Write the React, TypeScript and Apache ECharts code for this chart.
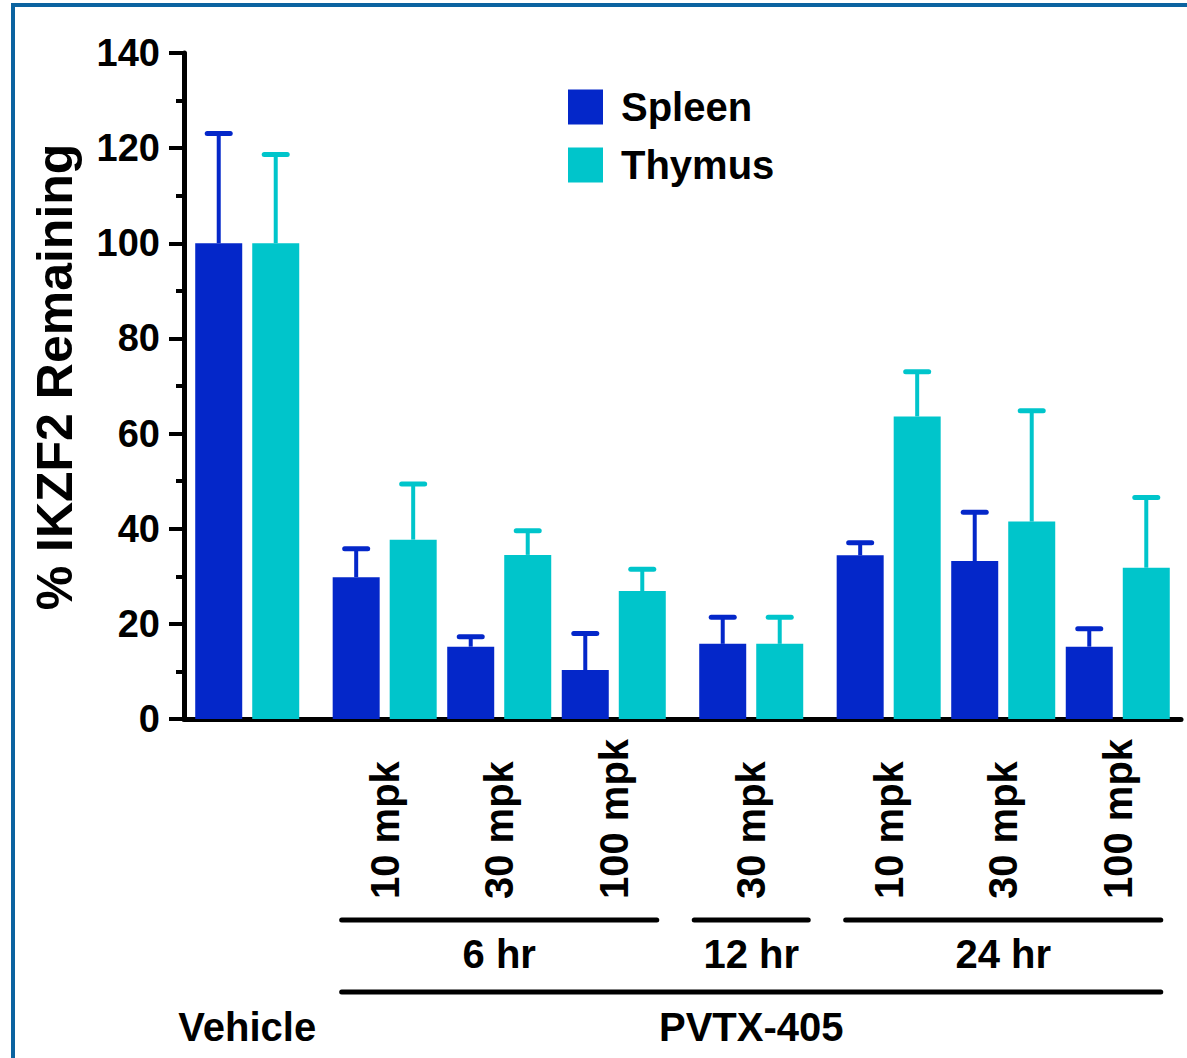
import React, { useEffect, useRef } from 'react';
import * as echarts from 'echarts';

// ---------- data ----------
const treatments = ['Vehicle', 'PVTX-405', 'PVTX-405', 'PVTX-405', 'PVTX-405', 'PVTX-405', 'PVTX-405', 'PVTX-405'];
const timepoints = ['', '6 hr', '6 hr', '6 hr', '12 hr', '24 hr', '24 hr', '24 hr'];
const doses = ['', '10 mpk', '30 mpk', '100 mpk', '30 mpk', '10 mpk', '30 mpk', '100 mpk'];
const seriesNames = ['Spleen', 'Thymus'];
const spleenMean = [100, 29.8, 15.2, 10.3, 15.8, 34.4, 33.2, 15.2];
const spleenErr = [23.6, 6.5, 2.6, 8.2, 6.1, 3.2, 10.8, 4.3];
const thymusMean = [100, 37.7, 34.5, 26.9, 15.8, 63.6, 41.5, 31.8];
const thymusErr = [19.2, 12.2, 5.6, 5.1, 6.1, 9.9, 23.8, 15.3];
const yMin = 0;
const yMax = 140;
const yInterval = 20;

// ---------- layout helpers ----------
const GROUP_STEP = 5;
const BLOCK_GAP = 1;
const FONT = "'Liberation Sans', Arial, Helvetica, sans-serif";
const SPLEEN = '#0427C9';
const THYMUS = '#00C5CB';

function buildPositions(keys: string[]): number[] {
  let block = 0;
  return keys.map((k, i) => {
    if (i > 0 && k !== keys[i - 1]) block++;
    return i * GROUP_STEP + block * BLOCK_GAP;
  });
}

function runs(keys: string[]) {
  const out: { key: string; start: number; end: number }[] = [];
  keys.forEach((k, i) => {
    const last = out[out.length - 1];
    if (last && last.key === k) last.end = i;
    else out.push({ key: k, start: i, end: i });
  });
  return out;
}

export default function App() {
  const ref = useRef<HTMLDivElement>(null);

  useEffect(() => {
    if (!ref.current) return;
    const chart = echarts.init(ref.current, null, { renderer: 'svg' });
    const pos = buildPositions(timepoints);

    type Ann = { level: number; label: string; start: number; end: number; line: boolean };
    const anns: Ann[] = [];
    runs(timepoints).forEach((r) => {
      if (r.key) anns.push({ level: 0, label: r.key, start: pos[r.start], end: pos[r.end], line: true });
    });
    runs(treatments).forEach((r) => {
      const hasTime = timepoints.slice(r.start, r.end + 1).some((t) => t !== '');
      anns.push({ level: 1, label: r.key, start: pos[r.start], end: pos[r.end], line: hasTime });
    });

    const labelMap: Record<string, string> = {};
    pos.forEach((p, i) => { if (doses[i]) labelMap[String(p)] = doses[i]; });
    const doseValues = pos.filter((_, i) => doses[i] !== '');

    const errSeries = (name: string, mean: number[], err: number[], color: string, side: number) => ({
      type: 'custom',
      name: name + ' err',
      clip: false,
      z: 5,
      data: pos.map((p, i) => [p, mean[i], err[i]]),
      renderItem: (params: any, api: any) => {
        const x = api.value(0);
        const m = api.value(1);
        const e = api.value(2);
        const p1 = api.coord([x, m]);
        const p2 = api.coord([x, m + e]);
        const cx = p1[0] + side * 28.5;
        return {
          type: 'group',
          children: [
            { type: 'line', shape: { x1: cx, y1: p1[1], x2: cx, y2: p2[1] + 2 }, style: { stroke: color, lineWidth: 4 } },
            { type: 'line', shape: { x1: cx - 11.5, y1: p2[1] + 2.5, x2: cx + 11.5, y2: p2[1] + 2.5 }, style: { stroke: color, lineWidth: 5, lineCap: 'round' } },
          ],
        };
      },
    });

    const option: any = {
      animation: false,
      backgroundColor: '#ffffff',
      textStyle: { fontFamily: FONT },
      grid: { left: 184, right: 6, top: 53, height: 666, containLabel: false },
      legend: {
        data: seriesNames,
        orient: 'vertical',
        left: 568,
        top: 87,
        padding: 0,
        itemWidth: 35,
        itemHeight: 35,
        itemGap: 18,
        icon: 'rect',
        textStyle: { fontSize: 40, fontWeight: 'bold', color: '#000', fontFamily: FONT, padding: [0, 0, 0, 13] },
      },
      xAxis: {
        type: 'value',
        min: pos[0] - 2.76,
        max: pos[pos.length - 1] + 2.76,
        splitLine: { show: false },
        axisLine: { show: true, onZero: false, lineStyle: { color: '#000', width: 5 } },
        axisTick: { show: false },
        axisLabel: {
          show: true,
          customValues: doseValues,
          formatter: (v: number) => labelMap[String(v)] || '',
          rotate: 90,
          margin: 180,
          align: 'left',
          verticalAlign: 'middle',
          fontSize: 40,
          fontWeight: 'bold',
          color: '#000',
          fontFamily: FONT,
        },
      },
      yAxis: {
        type: 'value',
        min: yMin,
        max: yMax,
        interval: yInterval,
        name: '% IKZF2 Remaining',
        nameLocation: 'middle',
        nameGap: 104,
        nameMoveOverlap: false,
        nameTextStyle: { fontSize: 50, fontWeight: 'bold', color: '#000', fontFamily: FONT, padding: [0, 0, 0, 18] },
        splitLine: { show: false },
        axisLine: { show: true, onZero: false, lineStyle: { color: '#000', width: 5 } },
        axisTick: { show: true, length: 15, lineStyle: { color: '#000', width: 4 } },
        minorTick: { show: true, splitNumber: 2, length: 8, lineStyle: { color: '#000', width: 4 } },
        axisLabel: { margin: 24, fontSize: 38, fontWeight: 'bold', color: '#000', fontFamily: FONT },
      },
      graphic: [
        {
          type: 'rect',
          silent: true,
          shape: { x: 13, y: 5, width: 1400, height: 1400 },
          style: { fill: 'none', stroke: '#0B63A0', lineWidth: 4 },
        },
      ],
      series: [
        {
          type: 'bar',
          name: seriesNames[0],
          data: pos.map((p, i) => [p, spleenMean[i]]),
          barWidth: 47,
          barGap: '21.3%',
          itemStyle: { color: SPLEEN },
        },
        {
          type: 'bar',
          name: seriesNames[1],
          data: pos.map((p, i) => [p, thymusMean[i]]),
          barWidth: 47,
          barGap: '21.3%',
          itemStyle: { color: THYMUS },
        },
        errSeries(seriesNames[0], spleenMean, spleenErr, SPLEEN, -1),
        errSeries(seriesNames[1], thymusMean, thymusErr, THYMUS, 1),
        {
          type: 'custom',
          name: 'annotations',
          clip: false,
          data: anns.map((a) => [a.start, a.end]),
          renderItem: (params: any, api: any) => {
            const a = anns[params.dataIndex];
            const p1 = api.coord([a.start, 0]);
            const p2 = api.coord([a.end, 0]);
            const y0 = p1[1];
            const cx = (p1[0] + p2[0]) / 2;
            const half = Math.max((p2[0] - p1[0]) / 2 + 43, 57);
            const lineY = y0 + (a.level === 0 ? 201 : 273);
            const textY = y0 + (a.level === 0 ? 235 : 308);
            const children: any[] = [];
            if (a.line) {
              children.push({
                type: 'line',
                shape: { x1: cx - half, y1: lineY, x2: cx + half, y2: lineY },
                style: { stroke: '#000', lineWidth: 5, lineCap: 'round' },
              });
            }
            children.push({
              type: 'text',
              x: cx,
              y: textY,
              style: { text: a.label, fill: '#000', fontSize: 40, fontWeight: 'bold', fontFamily: FONT, align: 'center', verticalAlign: 'middle' },
            });
            return { type: 'group', children };
          },
        },
      ],
    };

    chart.setOption(option);
    return () => chart.dispose();
  }, []);

  return <div ref={ref} style={{ position: 'absolute', left: 0, top: 0, width: 1187, height: 1058 }} />;
}
